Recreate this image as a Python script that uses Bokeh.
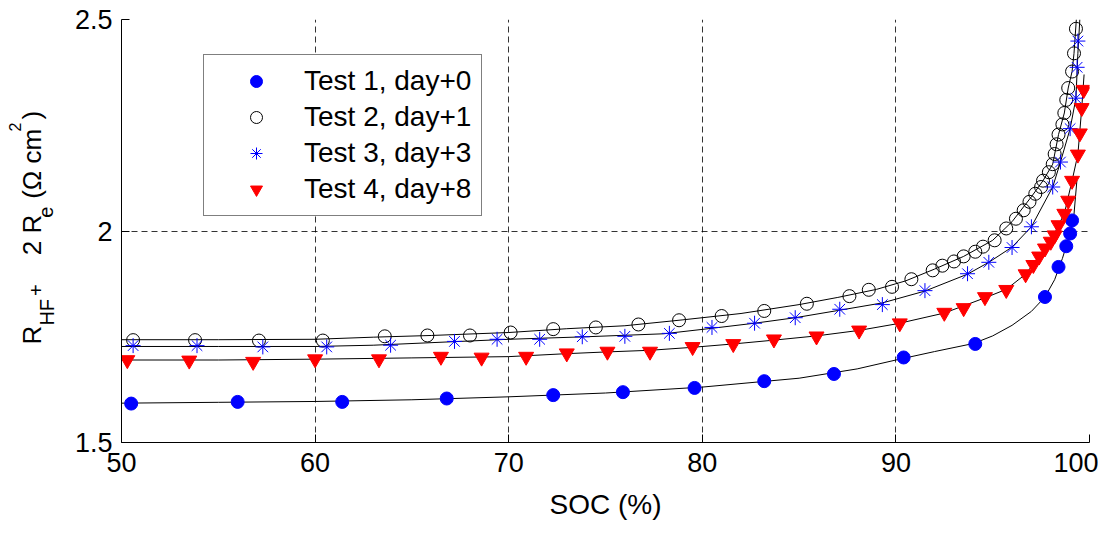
import math
from bokeh.plotting import figure
from bokeh.layouts import row
from bokeh.models import Legend, LegendItem, FixedTicker
from bokeh.core.properties import value
from bokeh.embed import file_html
from bokeh.resources import INLINE

# ---------------- data ----------------
x_ticks = [50, 60, 70, 80, 90, 100]
y_ticks = [1.5, 2.0, 2.5]
y_tick_labels = {1.5: "1.5", 2.0: "2", 2.5: "2.5"}

labels = ["Test 1, day+0", "Test 2, day+1", "Test 3, day+3", "Test 4, day+8"]

t1_soc = [50.5, 56.0, 61.4, 66.8, 72.3, 75.9, 79.6, 83.2, 86.8, 90.4, 94.1, 97.7, 98.4, 98.8, 99.0, 99.1]
t1_r = [1.592, 1.596, 1.596, 1.604, 1.612, 1.619, 1.629, 1.645, 1.662, 1.701, 1.733, 1.844, 1.915, 1.964, 1.994, 2.025]

t2_soc = [50.6, 53.8, 57.1, 60.4, 63.6, 65.8, 68.0, 70.1, 72.3, 74.5, 76.7, 78.8, 81.0, 83.2, 85.4,
          87.6, 88.6, 89.8, 90.8, 91.9, 92.4, 93.0, 93.5, 94.1, 94.5, 95.1, 95.7, 96.2, 96.6, 96.9,
          97.2, 97.5, 97.6, 97.9, 98.1, 98.2, 98.3, 98.4, 98.6, 98.7, 98.8, 98.9, 99.1, 99.2, 99.3]
t2_r = [1.742, 1.742, 1.741, 1.741, 1.751, 1.753, 1.753, 1.760, 1.768, 1.772, 1.779, 1.789, 1.799, 1.811, 1.828,
        1.846, 1.861, 1.868, 1.886, 1.907, 1.918, 1.928, 1.940, 1.951, 1.963, 1.978, 2.006, 2.029, 2.049, 2.069,
        2.088, 2.104, 2.119, 2.139, 2.158, 2.182, 2.205, 2.228, 2.252, 2.279, 2.310, 2.338, 2.377, 2.420, 2.478]

t3_soc = [50.6, 53.9, 57.3, 60.6, 63.9, 67.2, 69.4, 71.6, 73.8, 76.0, 78.3, 80.5, 82.7, 84.8, 87.1,
          89.3, 91.5, 93.7, 94.8, 96.0, 97.0, 98.1, 98.5, 99.0, 99.3, 99.36, 99.4]
t3_r = [1.729, 1.729, 1.726, 1.726, 1.730, 1.739, 1.744, 1.744, 1.750, 1.751, 1.758, 1.772, 1.782, 1.795, 1.815,
        1.826, 1.859, 1.899, 1.926, 1.961, 2.010, 2.104, 2.163, 2.242, 2.314, 2.387, 2.449]

t4_soc = [50.3, 53.5, 56.8, 60.0, 63.3, 66.5, 68.6, 70.9, 73.0, 75.1, 77.3, 79.5, 81.6, 83.7, 85.9,
          88.1, 90.2, 92.5, 93.5, 94.6, 95.7, 96.7, 97.1, 97.4, 97.7, 98.0, 98.2, 98.4, 98.7, 98.9,
          99.1, 99.4, 99.5, 99.6, 99.7]
t4_r = [1.695, 1.694, 1.691, 1.697, 1.697, 1.703, 1.701, 1.703, 1.711, 1.715, 1.715, 1.726, 1.733, 1.744, 1.751,
        1.765, 1.782, 1.807, 1.818, 1.844, 1.861, 1.898, 1.920, 1.940, 1.959, 1.975, 1.990, 2.014, 2.041, 2.072,
        2.119, 2.181, 2.231, 2.291, 2.334]

# fitted curves
fit1_soc = [50, 55, 60, 65, 70, 75, 80, 85, 88, 90, 92, 94, 95, 96, 97, 97.7, 98.2, 98.6, 99.0, 99.2, 99.35]
fit1_r = [1.593, 1.595, 1.597, 1.601, 1.608, 1.617, 1.631, 1.652, 1.674, 1.695, 1.715, 1.734, 1.752, 1.777,
          1.810, 1.844, 1.885, 1.935, 1.994, 2.040, 2.120]

fit2_soc = [50, 55, 60, 63, 66, 70, 73, 76, 79, 82, 85, 87, 89, 90.5, 92, 93.5, 95, 96, 97, 97.6, 98.1,
            98.4, 98.7, 98.9, 99.1, 99.2, 99.32]
fit2_r = [1.743, 1.743, 1.744, 1.749, 1.753, 1.760, 1.769, 1.776, 1.790, 1.805, 1.826, 1.843, 1.862, 1.882,
          1.910, 1.940, 1.978, 2.022, 2.081, 2.119, 2.158, 2.228, 2.279, 2.338, 2.377, 2.420, 2.500]

fit3_soc = [50, 55, 60, 63, 67, 70, 74, 78, 80.5, 82.7, 84.8, 87, 89.3, 91.5, 93.7, 94.8, 96, 97, 98.1,
            98.5, 99.0, 99.3, 99.4, 99.5]
fit3_r = [1.727, 1.727, 1.727, 1.730, 1.738, 1.744, 1.750, 1.757, 1.770, 1.782, 1.795, 1.812, 1.830, 1.858,
          1.898, 1.926, 1.962, 2.010, 2.104, 2.163, 2.242, 2.314, 2.420, 2.500]

fit4_soc = [50, 55, 60, 65, 70, 73, 75, 77.3, 79.5, 81.6, 83.7, 85.9, 88.1, 90.1, 92.5, 94.6, 95.7, 96.7,
            97.4, 98.0, 98.4, 98.7, 99.1, 99.4, 99.6, 99.72]
fit4_r = [1.695, 1.695, 1.697, 1.700, 1.703, 1.710, 1.714, 1.718, 1.725, 1.733, 1.742, 1.752, 1.765, 1.781,
          1.806, 1.842, 1.862, 1.898, 1.940, 1.975, 2.014, 2.041, 2.119, 2.181, 2.291, 2.370]

# y-axis title pieces (text, font size) - sub/superscripts
ylab_text = ["R", "HF", "+", "2 R", "e", "(\u03a9 cm", "2", ")"]
ylab_size = ["26px", "20px", "20px", "26px", "20px", "26px", "16px", "26px"]

# ---------------- layout constants ----------------
FONT = "Liberation Sans"
H = 522          # canvas height
LW = 66          # width of the y-title strip
TOP, BOT = 19, 76
FH = H - TOP - BOT   # frame height (427)

# ---------------- y-title strip ----------------
lab = figure(width=LW, height=H, x_range=(0, LW), y_range=(0, FH),
             output_backend="svg", toolbar_location=None,
             min_border_left=0, min_border_right=0, min_border_top=TOP, min_border_bottom=BOT)
lab.axis.visible = False
lab.grid.visible = False
lab.outline_line_color = None
# anchor positions in strip pixels (baseline start of each rotated piece, y from frame bottom)
ylab_px = [31, 46, 35, 31, 45, 31, 14, 31]
ylab_py = [99, 118, 148, 189, 227, 246, 314, 326]
for t, fs, px, py in zip(ylab_text, ylab_size, ylab_px, ylab_py):
    lab.text(x=[px], y=[py], text=[t], angle=math.pi / 2,
             text_align="left", text_baseline="alphabetic",
             text_font=value(FONT), text_font_size=fs, text_color="black")

# ---------------- main figure ----------------
p = figure(width=1098 - LW, height=H,
           x_range=(50, 100), y_range=(1.5, 2.5),
           output_backend="svg", toolbar_location=None,
           min_border_left=121 - LW, min_border_top=TOP, min_border_right=9, min_border_bottom=BOT,
           background_fill_color="white", border_fill_color="white")
p.outline_line_color = None

for ax in (p.xaxis[0], p.yaxis[0]):
    ax.major_label_text_font = FONT
    ax.major_label_text_font_size = "27px"
    ax.major_label_text_color = "black"
    ax.axis_line_color = "black"
    ax.axis_line_width = 1
    ax.major_tick_in = 8
    ax.major_tick_out = 0
    ax.minor_tick_line_color = None
    ax.major_tick_line_color = "black"

p.xaxis.ticker = FixedTicker(ticks=x_ticks)
p.yaxis.ticker = FixedTicker(ticks=y_ticks)
p.yaxis.major_label_overrides = y_tick_labels
p.xaxis.major_label_standoff = 10
p.yaxis.major_label_standoff = 9

p.xaxis.axis_label = "SOC (%)"
p.xaxis.axis_label_text_font = FONT
p.xaxis.axis_label_text_font_size = "28px"
p.xaxis.axis_label_text_font_style = "normal"
p.xaxis.axis_label_text_color = "black"
p.xaxis.axis_label_standoff = 14

for g, t in ((p.xgrid[0], x_ticks), (p.ygrid[0], y_ticks)):
    g.ticker = FixedTicker(ticks=t)
    g.grid_line_color = "black"
    g.grid_line_alpha = 0.8
    g.grid_line_width = 1
    g.grid_line_dash = "6 4"

for fx, fy in ((fit1_soc, fit1_r), (fit2_soc, fit2_r), (fit3_soc, fit3_r), (fit4_soc, fit4_r)):
    p.line(fx, fy, line_color="black", line_width=1)

r1 = p.scatter(t1_soc, t1_r, marker="circle", size=13, fill_color="#0000ff", line_color="#0000ff")
r2 = p.scatter(t2_soc, t2_r, marker="circle", size=13, fill_color=None, line_color="black", line_width=1)
r3 = p.scatter(t3_soc, t3_r, marker="asterisk", size=15, line_color="#0000ff", line_width=1)
r4 = p.scatter(t4_soc, t4_r, marker="inverted_triangle", size=15, fill_color="#ff0000", line_color="#ff0000")

legend = Legend(items=[LegendItem(label=labels[0], renderers=[r1]),
                       LegendItem(label=labels[1], renderers=[r2]),
                       LegendItem(label=labels[2], renderers=[r3]),
                       LegendItem(label=labels[3], renderers=[r4])],
                location=(82, 226), margin=0, padding=10, spacing=4,
                glyph_width=84, glyph_height=30, label_height=30, label_standoff=6,
                label_text_font=FONT, label_text_font_size="28px", label_text_color="black",
                border_line_color="black", border_line_width=1.5,
                background_fill_color="white", background_fill_alpha=1.0)
p.add_layout(legend)

layout = row(lab, p)
open("out.html", "w").write(file_html(layout, INLINE))
